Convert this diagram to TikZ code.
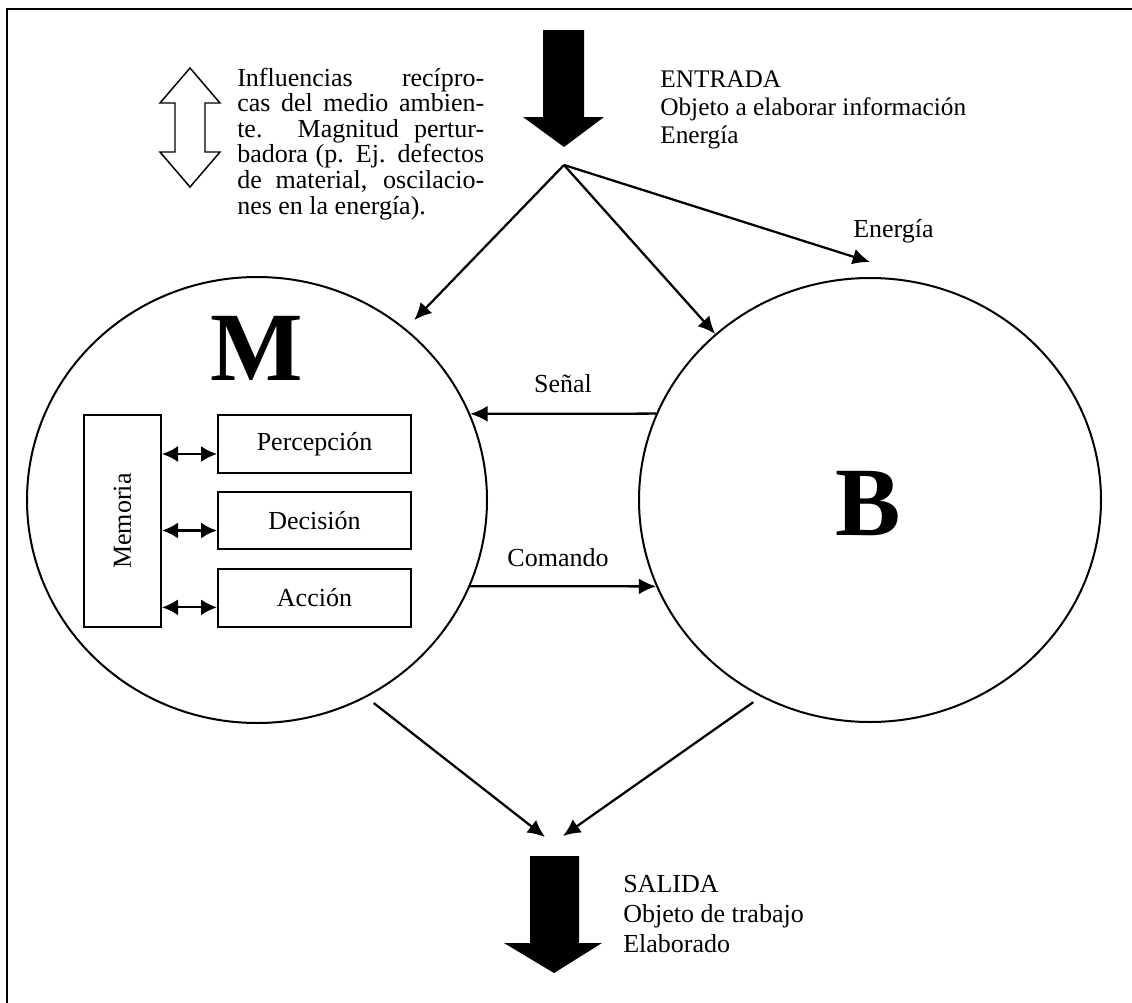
\documentclass[tikz,border=0pt]{standalone}
\usepackage{fontspec}
\setmainfont{Liberation Serif}
\usetikzlibrary{shapes.geometric,arrows.meta}
\begin{document}
\begin{tikzpicture}[x=0.75pt,y=-0.75pt,
  txt/.style={inner sep=0pt, font=\fontsize{19.5}{20}\selectfont},
  big/.style={inner sep=0pt, font=\fontsize{73.5}{74}\selectfont\bfseries},
  circ/.style={ellipse, draw, line width=1.5pt, inner sep=0pt},
  box/.style={draw, line width=1.5pt, inner sep=0pt, font=\fontsize{19.5}{20}\selectfont},
  arr/.style={line width=1.7pt, -{Latex[length=13pt,width=12pt]}},
  darr/.style={line width=1.7pt, {Latex[length=12pt,width=12pt]}-{Latex[length=12pt,width=12pt]}},
  solidarrow/.style={fill=black},
  hollowarrow/.style={draw, line width=1.1pt, fill=white}
]
\useasboundingbox (0,0) rectangle (1132,1003);
% frame (top and left)
\draw[line width=1.5pt] (7,1003) -- (7,9) -- (1132,9);

% input arrow
\fill[solidarrow] (543,30) -- (584,30) -- (584,117) -- (604,117) -- (564,147) -- (523,117) -- (543,117) -- cycle;
% output arrow
\fill[solidarrow] (530,856) -- (579,856) -- (579,943) -- (602,943) -- (554,973) -- (504,943) -- (530,943) -- cycle;
% hollow double arrow
\draw[hollowarrow] (190,68) -- (220,103) -- (205,103) -- (205,152) -- (220,152) -- (190,187) -- (160,152) -- (175,152) -- (175,103) -- (160,103) -- cycle;

% texts
\node[txt, anchor=base west] (infl) at (237,86) {\parbox[t]{185.25pt}{\fontsize{19.5}{19.2}\selectfont\hyphenpenalty=10000
Influencias recípro-\linebreak cas del medio ambien-\linebreak te. Magnitud pertur-\linebreak badora (p. Ej. defectos\linebreak de material, oscilacio-\linebreak nes en la energía).}};
\node[txt, anchor=base west] (entrada) at (660,87) {\parbox[t]{300pt}{\fontsize{19}{21.3}\selectfont ENTRADA\\Objeto a elaborar información\\Energía}};
\node[txt, anchor=base west] (salida) at (623,892) {\parbox[t]{300pt}{\fontsize{19.5}{22.5}\selectfont SALIDA\\Objeto de trabajo\\Elaborado}};

% circles
\node[circ, minimum width=345pt, minimum height=334.5pt] (M) at (257,500) {};
\node[circ, minimum width=346.5pt, minimum height=333pt] (B) at (870,500) {};
\node[big, anchor=base] (Mlab) at (257,380) {M};
\node[big, anchor=base] (Blab) at (868,535) {B};

% boxes inside M
\node[box, minimum width=57.75pt, minimum height=159pt] (mem) at (122.5,521) {};
\node[txt, rotate=90] (memlab) at (mem) {Memoria};
\node[box, minimum width=144.75pt, minimum height=43.5pt] (perc) at (314.5,444) {Percepción};
\node[box, minimum width=144.75pt, minimum height=42.75pt] (dec) at (314.5,520.5) {Decisión};
\node[box, minimum width=144.75pt, minimum height=43.5pt] (acc) at (314.5,598) {Acción};
\draw[darr, transform canvas={yshift=-7.5pt}] (mem.east |- perc.west) -- (perc.west);
\draw[darr, transform canvas={yshift=-7.5pt}] (mem.east |- dec.west) -- (dec.west);
\draw[darr, transform canvas={yshift=-7pt}] (mem.east |- acc.west) -- (acc.west);

% fan from input
\coordinate (fan) at (564,165);
\coordinate (tipE) at (870,262);
\node[txt, anchor=base west] (en) at (853,237) {Energía};
\draw[arr, shorten >=9pt] (fan) -- (M.49.6);
\draw[arr] (fan) -- (B.133);
\draw[arr] (fan) -- (tipE);

% Señal / Comando
\draw[arr] (B.158) -- (M.22);
\node[txt, anchor=base] (senal) at (563,392) {Señal};
\draw[arr] (M.-22.5) -- (B.202.5);
\node[txt, anchor=base] (comando) at (558,566) {Comando};

% to output
\coordinate (tL) at (545,837);
\coordinate (tR) at (563,836);
\draw[arr, shorten <=7pt] (M.-61) -- (tL);
\draw[arr, shorten <=7pt] (B.-119.3) -- (tR);
\end{tikzpicture}
\end{document}
